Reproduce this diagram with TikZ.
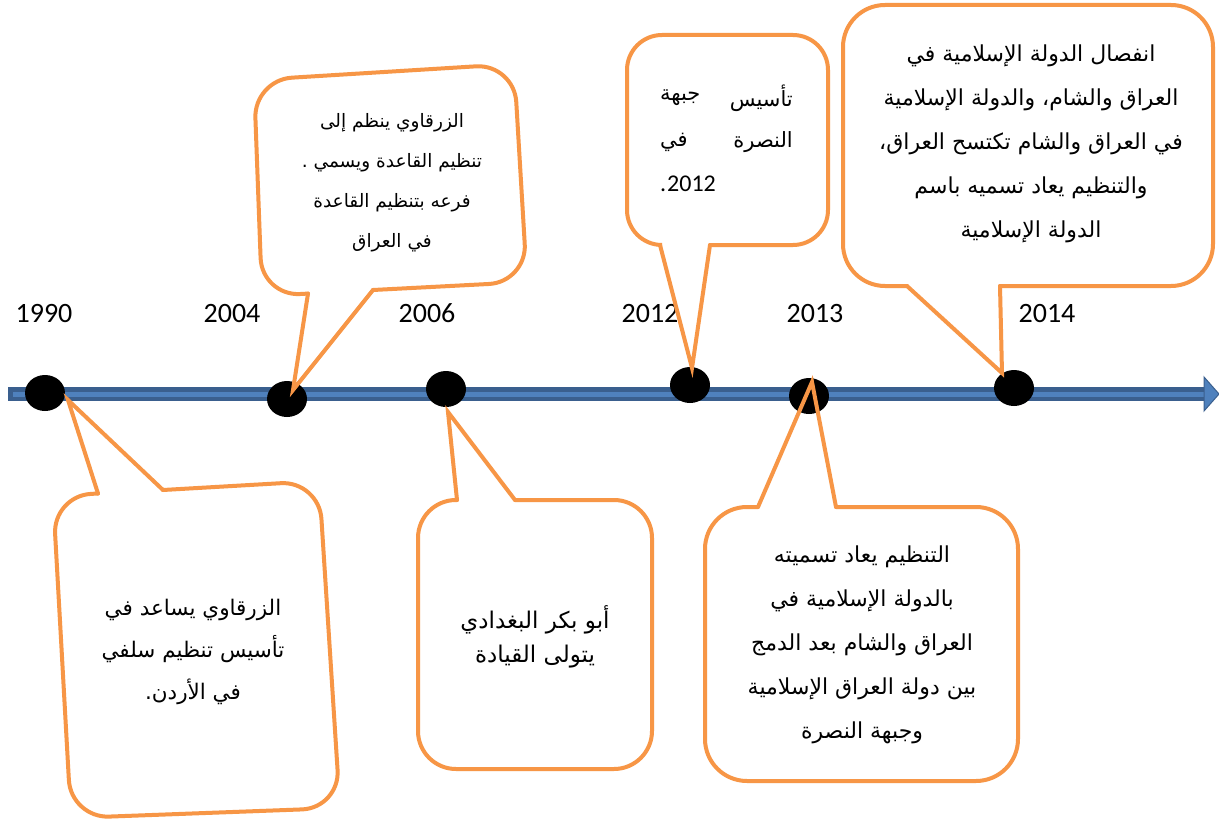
\documentclass[tikz,border=0pt]{standalone}
\usepackage{fontspec}
\usetikzlibrary{shapes.geometric}
\TeXXeTstate=1
\newfontfamily\arabicfont[Script=Arabic]{DejaVu Sans}
\newfontfamily\yearfont{Carlito}
\definecolor{orng}{HTML}{F79646}
\definecolor{darkb}{HTML}{3A5F8E}
\definecolor{lightb}{HTML}{4F81BD}
\newcommand\artext[1]{{\arabicfont\beginR #1\endR}}
\begin{document}
\begin{tikzpicture}[x=1pt,y=-1pt,
  dot/.style={ellipse,fill=black,minimum width=40pt,minimum height=36pt,inner sep=0pt},
  yearlbl/.style={font=\yearfont\fontsize{28}{32}\selectfont,inner sep=0pt,anchor=base},
  bubble/.style={draw=orng,line width=4pt,line cap=round,line join=miter},
  btext/.style={align=center,inner sep=0pt}]
\fill[white] (0,0) rectangle (1219,824);
\useasboundingbox (0,0) rectangle (1219,824);

% axis
\coordinate (axS) at (8,394);
\coordinate (axH) at (1205,394);
\coordinate (axE) at (1219,394);
\draw[darkb,line width=14pt] (axS) -- (axH);
\draw[lightb,line width=5pt] ([xshift=5pt]axS) -- (axH);
\filldraw[fill=lightb,draw=darkb,line width=1pt] (1204,377) -- (axE) -- (1204,411) -- cycle;

% dots
\node[dot] (c1990) at (45,393) {};
\node[dot] (c2004) at (287,399) {};
\node[dot] (c2006) at (446,389) {};
\node[dot] (c2012) at (690,385) {};
\node[dot] (c2013) at (809,396) {};
\node[dot] (c2014) at (1014,388) {};

% years
\node[yearlbl] (y1990) at (44,322) {1990};
\node[yearlbl] (y2004) at (232,322) {2004};
\node[yearlbl] (y2006) at (427,322) {2006};
\node[yearlbl] (y2012) at (650,322) {2012};
\node[yearlbl] (y2013) at (815,322) {2013};
\node[yearlbl] (y2014) at (1047,322) {2014};

% pointer tips
\coordinate (t1990) at (68,400);
\coordinate (t2004) at (293,390);
\coordinate (t2006) at (448,412);
\coordinate (t2012) at (692,368);
\coordinate (t2013) at (812,382);
\coordinate (t2014) at (1002,373);

% bubble 1990
\draw[bubble,rounded corners=38pt] (163,490) -- (319,481) -- (340,808) -- (71,818) -- (53,496) -- (98,493.5);
\draw[bubble] (98,493.5) -- (t1990) -- (163,490);
\node[btext,font=\fontsize{21.5}{42}\selectfont] (b1990) at (193,652)
  {\artext{الزرقاوي يساعد في}\\\artext{تأسيس تنظيم سلفي}\\\artext{في الأردن.}};

% bubble 2004
\draw[bubble,rounded corners=38pt] (373,290) -- (527,282) -- (514,64) -- (254,80) -- (262,296) -- (308,293.6);
\draw[bubble] (308,293.6) -- (t2004) -- (373,290);
\node[btext,font=\fontsize{18.5}{40}\selectfont] (b2004) at (392,183)
  {\artext{الزرقاوي ينظم إلى}\\\artext{تنظيم القاعدة ويسمي .}\\\artext{فرعه بتنظيم القاعدة}\\\artext{في العراق}};

% bubble 2006
\draw[bubble,rounded corners=38pt] (515,500) -- (652,500) -- (652,769) -- (418,769) -- (418,500) -- (457,500);
\draw[bubble] (457,500) -- (t2006) -- (515,500);
\node[btext,font=\fontsize{23}{34}\selectfont] (b2006) at (535,637)
  {\artext{أبو بكر البغدادي}\\\artext{يتولى القيادة}};

% bubble 2012
\draw[bubble,rounded corners=35pt] (710,245) -- (828,245) -- (828,35) -- (627,35) -- (627,245) -- (660,245);
\draw[bubble] (660,245) -- (t2012) -- (710,245);
\node[inner sep=0pt,anchor=east,font=\fontsize{21}{24}\selectfont] (b2012a) at (793,98) {\artext{تأسيس}};
\node[inner sep=0pt,anchor=west,font=\fontsize{21}{24}\selectfont] (b2012b) at (660,98) {\artext{جبهة}};
\node[inner sep=0pt,anchor=east,font=\fontsize{21}{24}\selectfont] (b2012c) at (793,142) {\artext{النصرة}};
\node[inner sep=0pt,anchor=west,font=\fontsize{21}{24}\selectfont] (b2012d) at (660,142) {\artext{في}};
\node[inner sep=0pt,anchor=base west,font=\yearfont\fontsize{24}{28}\selectfont] (b2012p) at (660,192) {.};
\node[inner sep=0pt,anchor=base west,font=\yearfont\fontsize{24}{28}\selectfont] (b2012e) at ([xshift=0.5pt]b2012p.base east) {2012};

% bubble 2013
\draw[bubble,rounded corners=42pt] (836,507) -- (1018,507) -- (1018,781) -- (705,781) -- (705,507) -- (758,507);
\draw[bubble] (758,507) -- (t2013) -- (836,507);
\node[btext,font=\fontsize{22}{44}\selectfont] (b2013) at (862,645)
  {\artext{التنظيم يعاد تسميته}\\\artext{بالدولة الإسلامية في}\\\artext{العراق والشام بعد الدمج}\\\artext{بين دولة العراق الإسلامية}\\\artext{وجبهة النصرة}};

% bubble 2014
\draw[bubble,rounded corners=42pt] (1000,286) -- (1213,286) -- (1213,5) -- (843,5) -- (843,286) -- (907,286);
\draw[bubble] (907,286) -- (t2014) -- (1000,286);
\node[btext,font=\fontsize{22}{44}\selectfont] (b2014) at (1031,144)
  {\artext{انفصال الدولة الإسلامية في}\\\artext{العراق والشام، والدولة الإسلامية}\\\artext{في العراق والشام تكتسح العراق،}\\\artext{والتنظيم يعاد تسميه باسم}\\\artext{الدولة الإسلامية}};
\end{tikzpicture}
\end{document}
